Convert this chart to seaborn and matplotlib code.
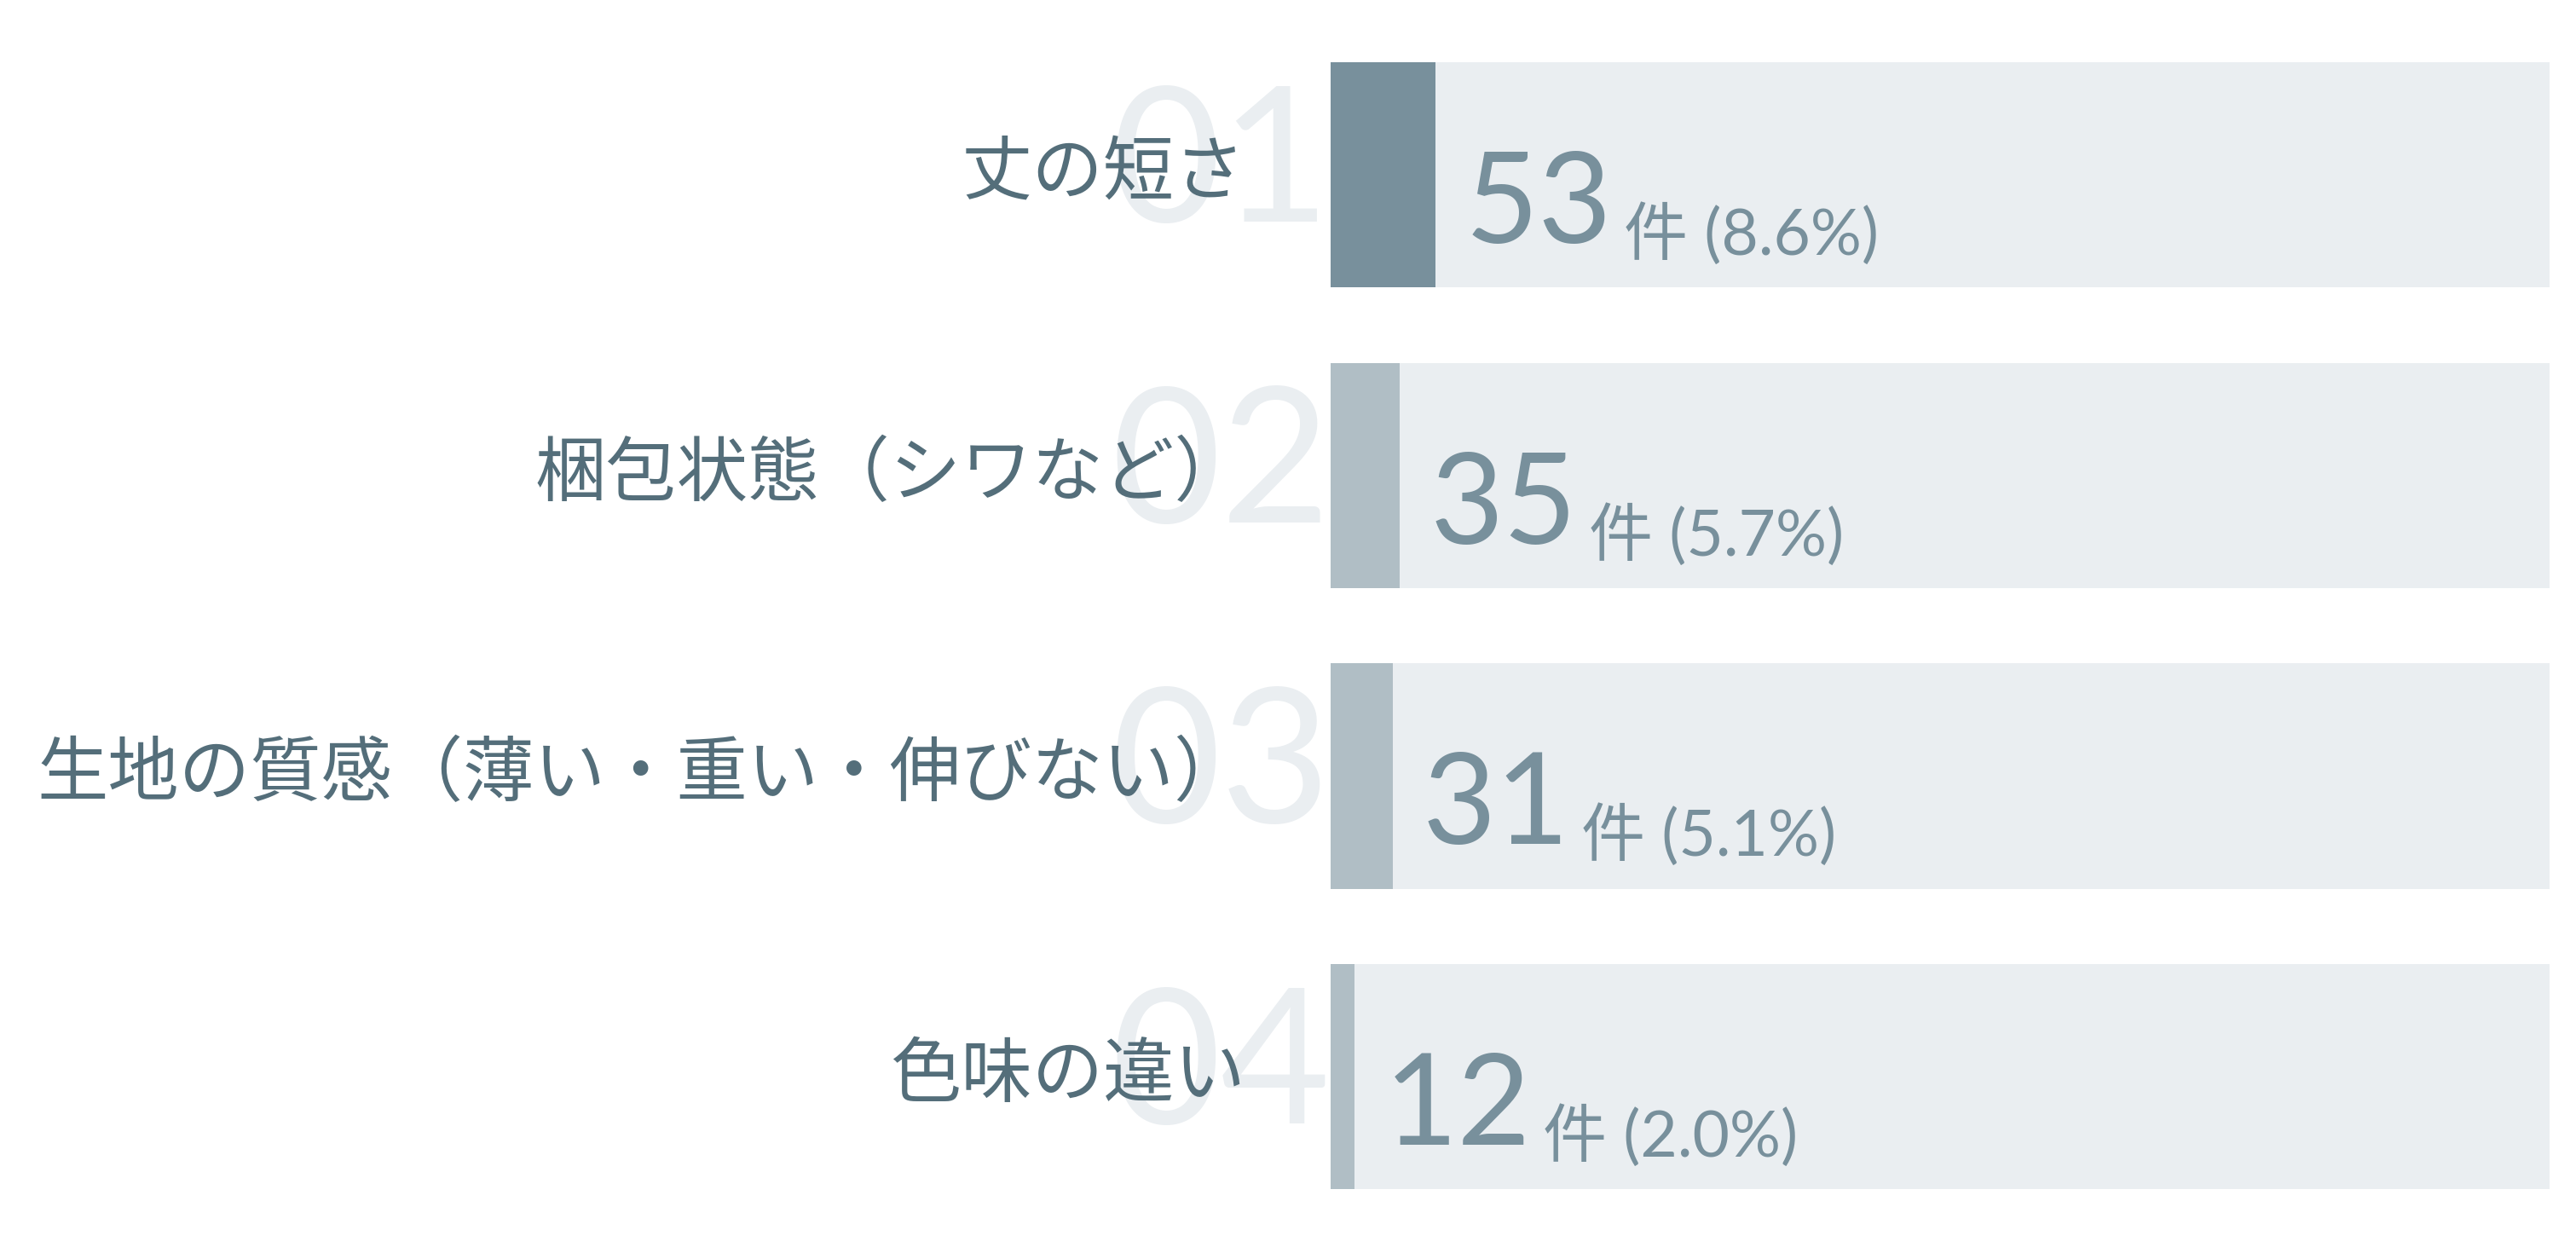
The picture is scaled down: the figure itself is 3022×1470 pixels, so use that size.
import pandas as pd
import numpy as np
import matplotlib
matplotlib.use("Agg")
import matplotlib.pyplot as plt
import matplotlib.transforms as mtransforms
import seaborn as sns

# data
labels = ["丈の短さ", "梱包状態（シワなど）", "生地の質感（薄い・重い・伸びない）", "色味の違い"]
ranks = ["01", "02", "03", "04"]
counts = [53, 35, 31, 12]
percents = [8.6, 5.7, 5.1, 2.0]
bar_colors = ["#78909C", "#B0BEC5", "#B0BEC5", "#B0BEC5"]

sns.set_theme(style="white")
plt.rcParams["font.family"] = ["Noto Sans CJK JP", "DejaVu Sans"]

df = pd.DataFrame({"label": labels, "pct": percents, "full": [100] * len(labels)})

fig = plt.figure(figsize=(30.22, 14.7), dpi=100)
ax = fig.add_axes([0.5165, 0.051, 0.4732, 0.8993])
ax.set_facecolor("none")

# grey track behind each bar
sns.barplot(data=df, x="full", y="label", color="#EAEEF1", width=0.75,
            linewidth=0, saturation=1, ax=ax, zorder=1)
# value bars
sns.barplot(data=df, x="pct", y="label", hue="label", palette=bar_colors,
            width=0.75, linewidth=0, saturation=1, legend=False, ax=ax, zorder=2)

ax.set_xlim(0, 100)
ax.set_ylim(3.375, -0.375)
ax.set_xlabel("")
ax.set_ylabel("")
ax.set_xticks([])
sns.despine(ax=ax, left=True, bottom=True)
ax.tick_params(axis="y", length=0, pad=72, labelsize=60, labelcolor="#546E7A")

# nudge category labels up a little
shift = mtransforms.ScaledTranslation(0, 0.11, fig.dpi_scale_trans)
for t in ax.get_yticklabels():
    t.set_transform(t.get_transform() + shift)

# big rank numbers behind the labels
for i, r in enumerate(ranks):
    ax.text(0, i + 0.156, r, ha="right", va="baseline", fontsize=160,
            family="Lato", fontweight="normal", color="#EAEEF1",
            zorder=0, clip_on=False)

# value text
for i, (c, p) in enumerate(zip(counts, percents)):
    big = ax.annotate(str(c), xy=(p, i + 0.227), xytext=(25, 0),
                      textcoords="offset points", ha="left", va="baseline",
                      fontsize=107, family=["Lato", "Noto Sans CJK JP"],
                      color="#78909C", zorder=3)
    ax.annotate(f"件 ({p:.1f}%)", xy=(1, i + 0.266), xycoords=(big, "data"),
                xytext=(10, 0), textcoords="offset points", ha="left",
                va="baseline", fontsize=54,
                family=["Lato", "Noto Sans CJK JP"], color="#78909C", zorder=3)

plt.savefig("out.png", dpi=100)
